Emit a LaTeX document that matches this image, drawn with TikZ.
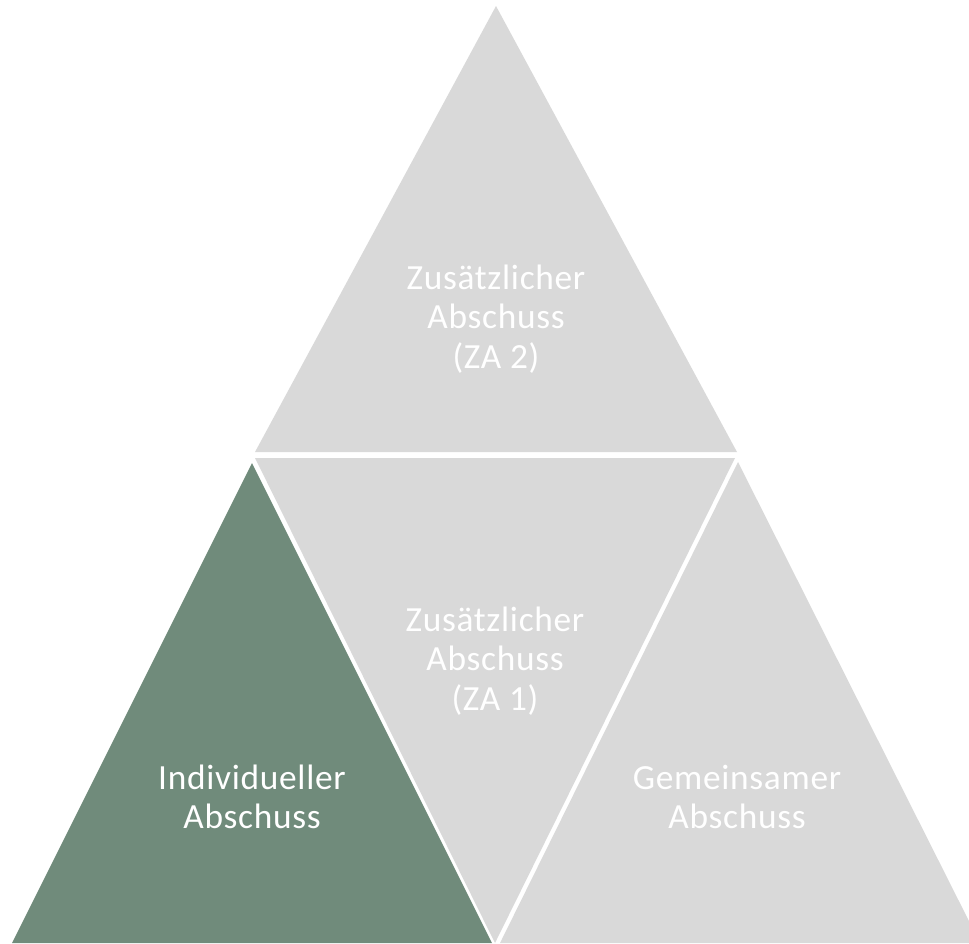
\documentclass[tikz,border=0pt]{standalone}
\usepackage{fontspec}
\setmainfont{Carlito}[LetterSpace=2]
\usetikzlibrary{positioning}
\definecolor{tri_grey}{HTML}{D9D9D9}
\definecolor{tri_green}{HTML}{708B7B}
\tikzset{
	tri_g/.style = {
		fill=tri_grey
	},
	tri_gr/.style = {
		fill=tri_green
	},
	label_txt/.style = {
		align=center,
		inner sep=0pt,
		text centered,
		white,
		font=\fontsize{26.5}{29.5}\selectfont
	},
}
\begin{document}
\begin{tikzpicture}[x=0.75pt, y=-0.75pt]
\useasboundingbox (0,0) rectangle (969,943);
\clip (0,0) rectangle (969,943);
% top
\fill [tri_g] (496,6) -- (737,452) -- (255,452) -- cycle;
% middle, upside down
\fill [tri_g] (255,458) -- (735,458) -- (495,943) -- cycle;
% left
\fill [tri_gr] (252,463) -- (492,943) -- (12,943) -- cycle;
% right
\fill [tri_g] (738,462) -- (980,943) -- (500,943) -- cycle;
\node [label_txt] (za2) at (496,319) {Zusätzlicher\\Abschuss\\(ZA 2)};
\node [label_txt] (za1) at (495,661) {Zusätzlicher\\Abschuss\\(ZA 1)};
\node [label_txt] (ind) at (252,797) {Individueller\\Abschuss};
\node [label_txt] (gem) at (737,797) {Gemeinsamer\\Abschuss};
\end{tikzpicture}
\end{document}
